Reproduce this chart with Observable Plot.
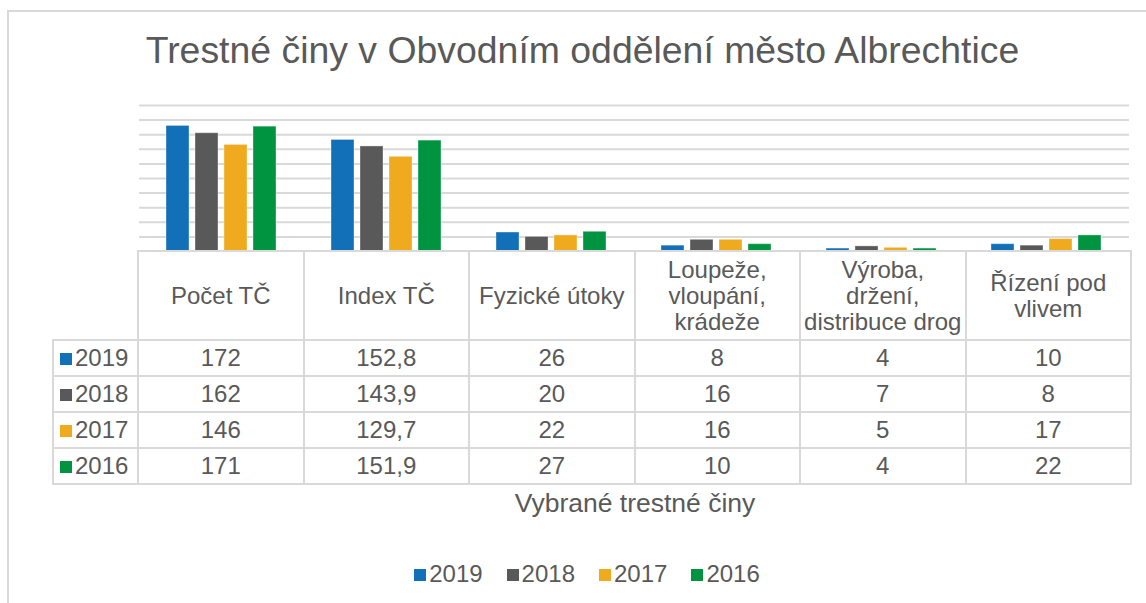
<!DOCTYPE html>
<html>
<head>
<meta charset="utf-8">
<script src="https://cdn.jsdelivr.net/npm/d3@7"></script>
<script src="https://cdn.jsdelivr.net/npm/@observablehq/plot@0.6"></script>
<style>
  html, body { margin: 0; padding: 0; background: #fff; }
  body { width: 1146px; height: 603px; overflow: hidden; font-family: "Liberation Sans", Arial, sans-serif; color: #595959; }
  #wrap { position: relative; width: 1146px; height: 603px; }
  #frame { position: absolute; left: 7px; top: 10px; width: 1160px; height: 620px; border-left: 2px solid #d9d9d9; border-top: 2px solid #d9d9d9; box-sizing: border-box; }
  #title { position: absolute; left: 0; width: 1165px; top: 28px; text-align: center; font-size: 37.4px; line-height: 44px; white-space: nowrap; }
  #chart { position: absolute; left: 0; top: 90px; }
  table { position: absolute; left: 52px; top: 250px; border-collapse: collapse; font-size: 24px; table-layout: fixed; }
  td { border: 2px solid #d9d9d9; text-align: center; padding: 0; height: 34px; line-height: 26px; white-space: nowrap; }
  td.hd { height: 87px; vertical-align: middle; }
  td.blank { border: none; border-right: 2px solid #d9d9d9; }
  td.lab { text-align: left; padding-left: 6px; }
  .sw { display: inline-block; width: 12px; height: 12px; margin-right: 3px; vertical-align: 1px; }
  #xtitle { position: absolute; left: 137px; width: 996px; top: 488px; text-align: center; font-size: 26.5px; line-height: 30px; }
  #legend { position: absolute; left: 0; width: 1174px; top: 559px; text-align: center; font-size: 24px; line-height: 30px; white-space: nowrap; }
  #legend span.item { margin: 0 12px; }
</style>
</head>
<body>
<div id="wrap">
  <div id="frame"></div>
  <div id="title">Trestné činy v Obvodním oddělení město Albrechtice</div>
  <div id="chart"></div>
  <table id="tbl"></table>
  <div id="xtitle">Vybrané trestné činy</div>
  <div id="legend"></div>
</div>
<script>
const categories = ["Počet TČ", "Index TČ", "Fyzické útoky", "Loupeže, vloupání, krádeže", "Výroba, držení, distribuce drog", "Řízení pod vlivem"];
const headerLines = [["Počet TČ"], ["Index TČ"], ["Fyzické útoky"], ["Loupeže,", "vloupání,", "krádeže"], ["Výroba,", "držení,", "distribuce drog"], ["Řízení pod", "vlivem"]];
const years = ["2019", "2018", "2017", "2016"];
const colors = ["#1170b8", "#595959", "#efaa1d", "#009440"];
const values2019 = [172, 152.8, 26, 8, 4, 10];
const values2018 = [162, 143.9, 20, 16, 7, 8];
const values2017 = [146, 129.7, 22, 16, 5, 17];
const values2016 = [171, 151.9, 27, 10, 4, 22];
const yTicks = [0, 20, 40, 60, 80, 100, 120, 140, 160, 180, 200];

const series = {"2019": values2019, "2018": values2018, "2017": values2017, "2016": values2016};
const data = [];
for (const y of years) categories.forEach((c, i) => data.push({cat: c, year: y, value: series[y][i]}));

const chart = Plot.plot({
  width: 1146,
  height: 161,
  marginLeft: 137,
  marginRight: 16,
  marginTop: 15,
  marginBottom: 0,
  facet: {data, x: "cat", marginLeft: 137, marginRight: 16},
  fx: {domain: categories, padding: 0, axis: null},
  x: {domain: years, axis: null, paddingInner: 0.2, paddingOuter: 0, insetLeft: 26, insetRight: 26},
  y: {domain: [0, 200], axis: null},
  color: {domain: years, range: colors},
  marks: [
    Plot.ruleY(yTicks.slice(1), {stroke: "#d9d9d9", strokeWidth: 2, strokeOpacity: 1}),
    Plot.barY(data, {x: "year", y: "value", fill: "year", stroke: "#ffffff", strokeOpacity: 0.35, strokeWidth: 1})
  ]
});
document.getElementById("chart").appendChild(chart);

// data table
const fmt = v => String(v).replace(".", ",");
const tbl = document.getElementById("tbl");
let html = '<colgroup><col style="width:85px">' + categories.map(() => '<col style="width:165.5px">').join("") + '</colgroup>';
html += '<tr><td class="blank hd"></td>' + headerLines.map(ls => '<td class="hd">' + ls.join("<br>") + '</td>').join("") + '</tr>';
years.forEach((y, k) => {
  html += '<tr><td class="lab"><span class="sw" style="background:' + colors[k] + '"></span>' + y + '</td>' +
    series[y].map(v => '<td>' + fmt(v) + '</td>').join("") + '</tr>';
});
tbl.innerHTML = html;

// legend
document.getElementById("legend").innerHTML = years.map((y, k) =>
  '<span class="item"><span class="sw" style="background:' + colors[k] + '"></span>' + y + '</span>').join("");
</script>
</body>
</html>
